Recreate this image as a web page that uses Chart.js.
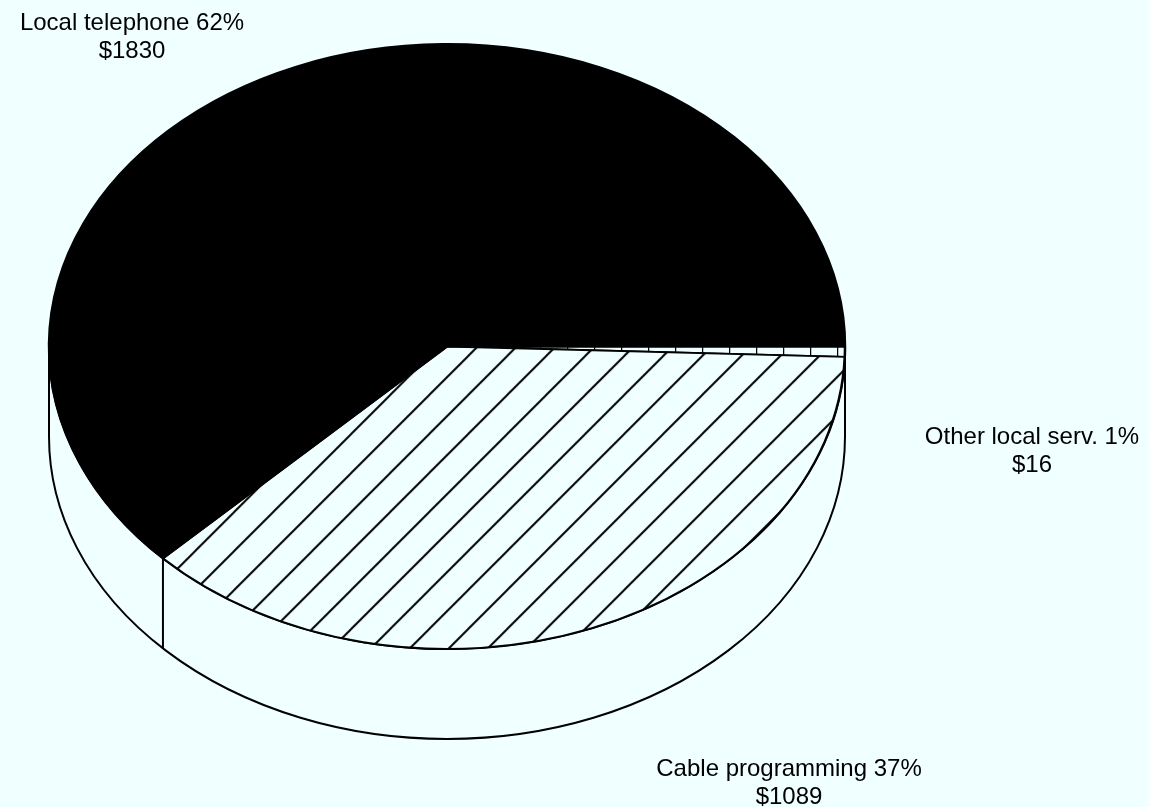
<!DOCTYPE html>
<html>
<head>
<meta charset="utf-8">
<title>Local service revenue</title>
<script src="https://cdn.jsdelivr.net/npm/chart.js@4.4.1/dist/chart.umd.min.js"></script>
<style>
  html, body {
    margin: 0;
    padding: 0;
    background: #f0ffff;
  }
  #wrap {
    position: relative;
    width: 1149px;
    height: 807px;
  }
</style>
</head>
<body>
<div id="wrap"><canvas id="pieChart"></canvas></div>
<script>
// slices, clockwise from three o'clock
const categories = ["Other local serv.", "Cable programming", "Local telephone"];
const amounts = [16, 1089, 1830];

// where each two-line label is centred (first baseline)
const labelAnchors = [
  { x: 1032, y: 444 },
  { x: 789, y: 776 },
  { x: 132, y: 30 },
];

const bg = "#f0ffff";
const tilt = 0.76;
const depth = 90;
const lineGap = 28;

function stripePattern() {
  const c = document.createElement("canvas");
  c.width = 27;
  c.height = 8;
  const g = c.getContext("2d");
  g.fillStyle = bg;
  g.fillRect(0, 0, 27, 8);
  g.fillStyle = "#000";
  g.fillRect(0, 0, 1.2, 8);
  return g.createPattern(c, "repeat");
}

function hatchPattern() {
  const s = 39;
  const c = document.createElement("canvas");
  c.width = s;
  c.height = s;
  const g = c.getContext("2d");
  g.fillStyle = bg;
  g.fillRect(0, 0, s, s);
  g.strokeStyle = "#000";
  g.lineWidth = 2;
  g.beginPath();
  g.moveTo(0, s);
  g.lineTo(s, 0);
  g.moveTo(-2, 2);
  g.lineTo(2, -2);
  g.moveTo(s - 2, s + 2);
  g.lineTo(s + 2, s - 2);
  g.stroke();
  const p = g.createPattern(c, "repeat");
  // undo the vertical squash applied while the top face is drawn
  p.setTransform(new DOMMatrix([1, 0, 0, 1 / tilt, 0, 0]));
  return p;
}

// side wall under the front half, then squash the pie into an ellipse
const tiltedPie = {
  id: "tiltedPie",
  beforeDatasetsDraw(chart) {
    const ctx = chart.ctx;
    const arcs = chart.getDatasetMeta(0).data;
    const { x, y, outerRadius: r } = arcs[0];
    const ry = r * tilt;

    ctx.save();
    ctx.lineWidth = 2;
    ctx.strokeStyle = "#000";
    ctx.fillStyle = bg;
    ctx.beginPath();
    ctx.ellipse(x, y, r, ry, 0, 0, Math.PI);
    ctx.lineTo(x - r, y + depth);
    ctx.ellipse(x, y + depth, r, ry, 0, Math.PI, 0, true);
    ctx.closePath();
    ctx.fill();
    ctx.stroke();

    arcs.forEach((arc) => {
      let a = arc.startAngle % (Math.PI * 2);
      if (a < 0) a += Math.PI * 2;
      if (a > 0.05 && a < Math.PI) {
        const px = x + r * Math.cos(a);
        const py = y + ry * Math.sin(a);
        ctx.beginPath();
        ctx.moveTo(px, py);
        ctx.lineTo(px, py + depth);
        ctx.stroke();
      }
    });
    ctx.restore();

    ctx.save();
    ctx.translate(x, y);
    ctx.scale(1, tilt);
    ctx.translate(-x, -y);
  },
  afterDatasetsDraw(chart) {
    chart.ctx.restore();
  },
  afterDraw(chart) {
    const ctx = chart.ctx;
    const total = amounts.reduce((s, v) => s + v, 0);
    ctx.save();
    ctx.fillStyle = "#000";
    ctx.font = '24px "Liberation Sans", Arial, sans-serif';
    ctx.textAlign = "center";
    ctx.textBaseline = "alphabetic";
    categories.forEach((name, i) => {
      const pct = Math.round((amounts[i] / total) * 100);
      const pos = labelAnchors[i];
      ctx.fillText(name + " " + pct + "%", pos.x, pos.y);
      ctx.fillText("$" + amounts[i], pos.x, pos.y + lineGap);
    });
    ctx.restore();
  },
};

function drawPie() {
  const ctx = document.getElementById("pieChart");
  new Chart(ctx, {
    type: "pie",
    data: {
      labels: categories,
      datasets: [
        {
          data: amounts,
          backgroundColor: [stripePattern(), hatchPattern(), "#000"],
          borderColor: "#000",
          borderWidth: 2.5,
          hoverOffset: 0,
          clip: false,
        },
      ],
    },
    options: {
      responsive: true,
      maintainAspectRatio: false,
      animation: false,
      events: [],
      rotation: 90,
      radius: 398,
      layout: {
        padding: { left: 0, right: 255, top: 0, bottom: 114 },
      },
      plugins: {
        legend: { display: false },
        tooltip: { enabled: false },
      },
    },
    plugins: [tiltedPie],
  });
}

drawPie();
</script>
</body>
</html>
